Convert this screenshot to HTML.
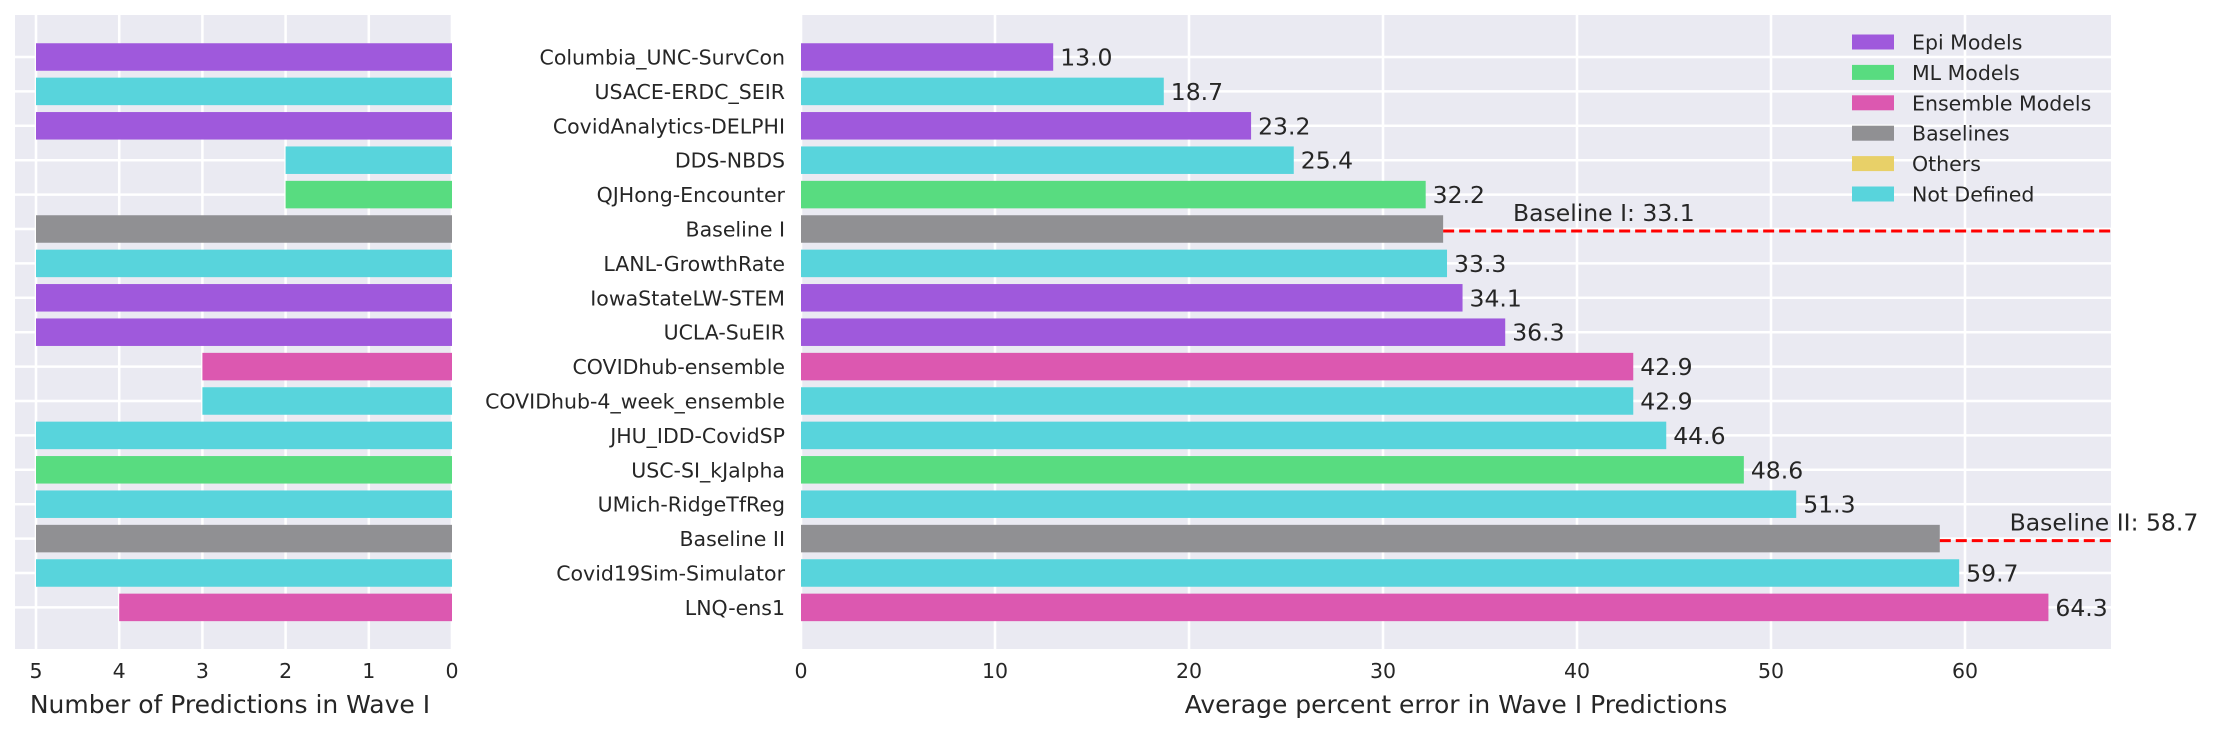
<!DOCTYPE html>
<html><head><meta charset="utf-8"><style>
body{margin:0;background:#fff}
svg{display:block;font-family:"DejaVu Sans","Liberation Sans",sans-serif}
</style></head><body>
<svg id="c" width="2225" height="731" xmlns="http://www.w3.org/2000/svg"></svg>
<script>
const models=["Columbia_UNC-SurvCon","USACE-ERDC_SEIR","CovidAnalytics-DELPHI","DDS-NBDS","QJHong-Encounter","Baseline I","LANL-GrowthRate","IowaStateLW-STEM","UCLA-SuEIR","COVIDhub-ensemble","COVIDhub-4_week_ensemble","JHU_IDD-CovidSP","USC-SI_kJalpha","UMich-RidgeTfReg","Baseline II","Covid19Sim-Simulator","LNQ-ens1"];
const counts=[5,5,5,2,2,5,5,5,5,3,3,5,5,5,5,5,4];
const errors=[13.0,18.7,23.2,25.4,32.2,33.1,33.3,34.1,36.3,42.9,42.9,44.6,48.6,51.3,58.7,59.7,64.3];
const groups=["epi","nd","epi","nd","ml","base","nd","epi","epi","ens","nd","nd","ml","nd","base","nd","ens"];
const baselineNames=["Baseline I","Baseline II"];
const baselineVals=[33.1,58.7];
const leftTicks=[5,4,3,2,1,0];
const rightTicks=[0,10,20,30,40,50,60];
const legendKeys=["epi","ml","ens","base","oth","nd"];
const legendLabels=["Epi Models","ML Models","Ensemble Models","Baselines","Others","Not Defined"];
const colors={epi:"#9f59dc",ml:"#58dc80",ens:"#dc58b0",base:"#909093",oth:"#e8d068",nd:"#58d4dc"};

const svg=document.getElementById('c');
const NS="http://www.w3.org/2000/svg";
function mk(t,a,p){const e=document.createElementNS(NS,t);for(const k in a)e.setAttribute(k,a[k]);(p||svg).appendChild(e);return e;}
const yTop=15,yBot=649;
const yC=i=>57+i*34.4;
const bh=27.5;
const lx=v=>452-v*83.2;
const rx=v=>801+v*19.4;
const TF=20.5;

// left panel
let bg=mk('rect',{x:15,y:yTop,width:437,height:yBot-yTop,fill:'#eaeaf2'});


leftTicks.forEach(t=>{
 const l=mk('line',{x1:lx(t),x2:lx(t),y1:yTop,y2:yBot,stroke:'#fff','stroke-width':2.5});
 
 
 const tx=mk('text',{x:lx(t),y:678,'font-size':TF,fill:'#262626','text-anchor':'middle'});tx.textContent=t;
 
 
});
models.forEach((m,i)=>{
 const l=mk('line',{x1:15,x2:452,y1:yC(i),y2:yC(i),stroke:'#fff','stroke-width':2.5});
 
 
});
counts.forEach((c,i)=>{
 const r=mk('rect',{x:lx(c),y:yC(i)-bh/2,width:lx(0)-lx(c),height:bh,fill:colors[groups[i]]});
 
 
});
let t1=mk('text',{x:230,y:713,'font-size':25,fill:'#262626','text-anchor':'middle'});t1.textContent='Number of Predictions in Wave I';



// right panel
let bg2=mk('rect',{x:801,y:yTop,width:1310,height:yBot-yTop,fill:'#eaeaf2'});


rightTicks.forEach(t=>{
 const l=mk('line',{x1:rx(t),x2:rx(t),y1:yTop,y2:yBot,stroke:'#fff','stroke-width':2.5});
 
 
 const tx=mk('text',{x:rx(t),y:678,'font-size':TF,fill:'#262626','text-anchor':'middle'});tx.textContent=t;
 
 
});
models.forEach((m,i)=>{
 const l=mk('line',{x1:801,x2:2111,y1:yC(i),y2:yC(i),stroke:'#fff','stroke-width':2.5});
 
 
 const tx=mk('text',{x:785,y:yC(i)+7.5,'font-size':TF,fill:'#262626','text-anchor':'end'});tx.textContent=m;
 
 
});
errors.forEach((v,i)=>{
 const r=mk('rect',{x:rx(0),y:yC(i)-bh/2,width:rx(v)-rx(0),height:bh,fill:colors[groups[i]]});
 
 
 if(groups[i]!=='base'){
  const tx=mk('text',{x:rx(v)+7,y:yC(i)+8.5,'font-size':23.5,fill:'#262626'});tx.textContent=v.toFixed(1);
  
  
 }
});
baselineVals.forEach((v,k)=>{
 const i=models.indexOf(baselineNames[k]);
 const l=mk('line',{x1:rx(v),x2:2111,y1:yC(i)+2,y2:yC(i)+2,stroke:'#ff0000','stroke-width':3,'stroke-dasharray':'11,5'});
 
 
 const tx=mk('text',{x:rx(v+3.6),y:yC(i)-8,'font-size':23.5,fill:'#262626'});tx.textContent=baselineNames[k]+': '+v.toFixed(1);
 
 
});
let t2=mk('text',{x:1456,y:713,'font-size':25,fill:'#262626','text-anchor':'middle'});t2.textContent='Average percent error in Wave I Predictions';



// legend
legendKeys.forEach((k,j)=>{
 const y=42+j*30.4;
 const r=mk('rect',{x:1852,y:y-7.5,width:42,height:15,fill:colors[k]});
 
 
 const tx=mk('text',{x:1912,y:y+7.5,'font-size':TF,fill:'#262626'});tx.textContent=legendLabels[j];
 
 
});
</script>
</body></html>
